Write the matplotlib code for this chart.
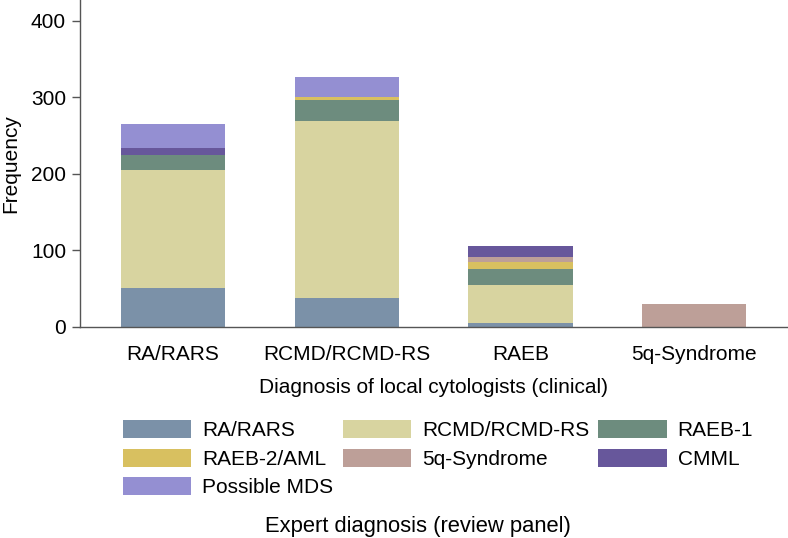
import numpy as np
import matplotlib.pyplot as plt
from matplotlib.patches import Patch

plt.rcParams['font.family'] = ['Liberation Sans', 'DejaVu Sans']

# Clinical diagnosis groups (x axis)
clinical = ['RA/RARS', 'RCMD/RCMD-RS', 'RAEB', '5q-Syndrome']

# Expert diagnosis counts per clinical group
expert = ['RA/RARS', 'RCMD/RCMD-RS', 'RAEB-1', 'RAEB-2/AML',
          '5q-Syndrome', 'CMML', 'Possible MDS']
ra_rars = [50, 37, 5, 0]
rcmd = [155, 232, 50, 0]
raeb1 = [20, 27, 21, 0]
raeb2 = [0, 4, 8, 0]
q5 = [0, 0, 7, 30]
cmml = [9, 0, 15, 0]
possible_mds = [31, 26, 0, 0]

colors = ['#7b91a8', '#d8d4a0', '#6d8c7e', '#d8c060',
          '#bd9f98', '#67579b', '#948fd2']

series = [ra_rars, rcmd, raeb1, raeb2, q5, cmml, possible_mds]

fig = plt.figure(figsize=(7.88, 5.38), dpi=100)
ax = fig.add_axes([0.1015, 0.3928, 0.8975, 0.6072])

x = np.arange(len(clinical))
bottom = np.zeros(len(clinical))
for vals, c in zip(series, colors):
    ax.bar(x, vals, width=0.6, bottom=bottom, color=c, linewidth=0)
    bottom += np.array(vals)

ax.set_xlim(-0.535, 3.535)
ax.set_ylim(0, 427)
ax.set_yticks([0, 100, 200, 300, 400])
ax.set_xticks(x)
ax.set_xticklabels(clinical)
ax.tick_params(axis='y', labelsize=15, length=6, width=1, color='#555555', pad=4)
ax.tick_params(axis='x', labelsize=15, length=0, pad=13)
for s in ['top', 'right']:
    ax.spines[s].set_visible(False)
for s in ['left', 'bottom']:
    ax.spines[s].set_color('#555555')
    ax.spines[s].set_linewidth(1)
ax.set_ylabel('Frequency', fontsize=15, labelpad=8)
ax.set_xlabel('Diagnosis of local cytologists (clinical)', fontsize=15, labelpad=10)

# legend filled row-wise: reorder for column-wise placement
handles = [Patch(facecolor=c, edgecolor='none') for c in colors]
order = [0, 3, 6, 1, 4, 2, 5]
fig.legend([handles[i] for i in order], [expert[i] for i in order],
           ncol=3, loc='upper left', bbox_to_anchor=(0.156, 0.2194),
           frameon=False, fontsize=15, handlelength=3.27, handleheight=0.96,
           handletextpad=0.53, columnspacing=0.45, labelspacing=0.4,
           borderpad=0, borderaxespad=0)
fig.text(0.53, 0.022, 'Expert diagnosis (review panel)', fontsize=15.8,
         ha='center', va='center')

fig.savefig('out.png', dpi=100)
